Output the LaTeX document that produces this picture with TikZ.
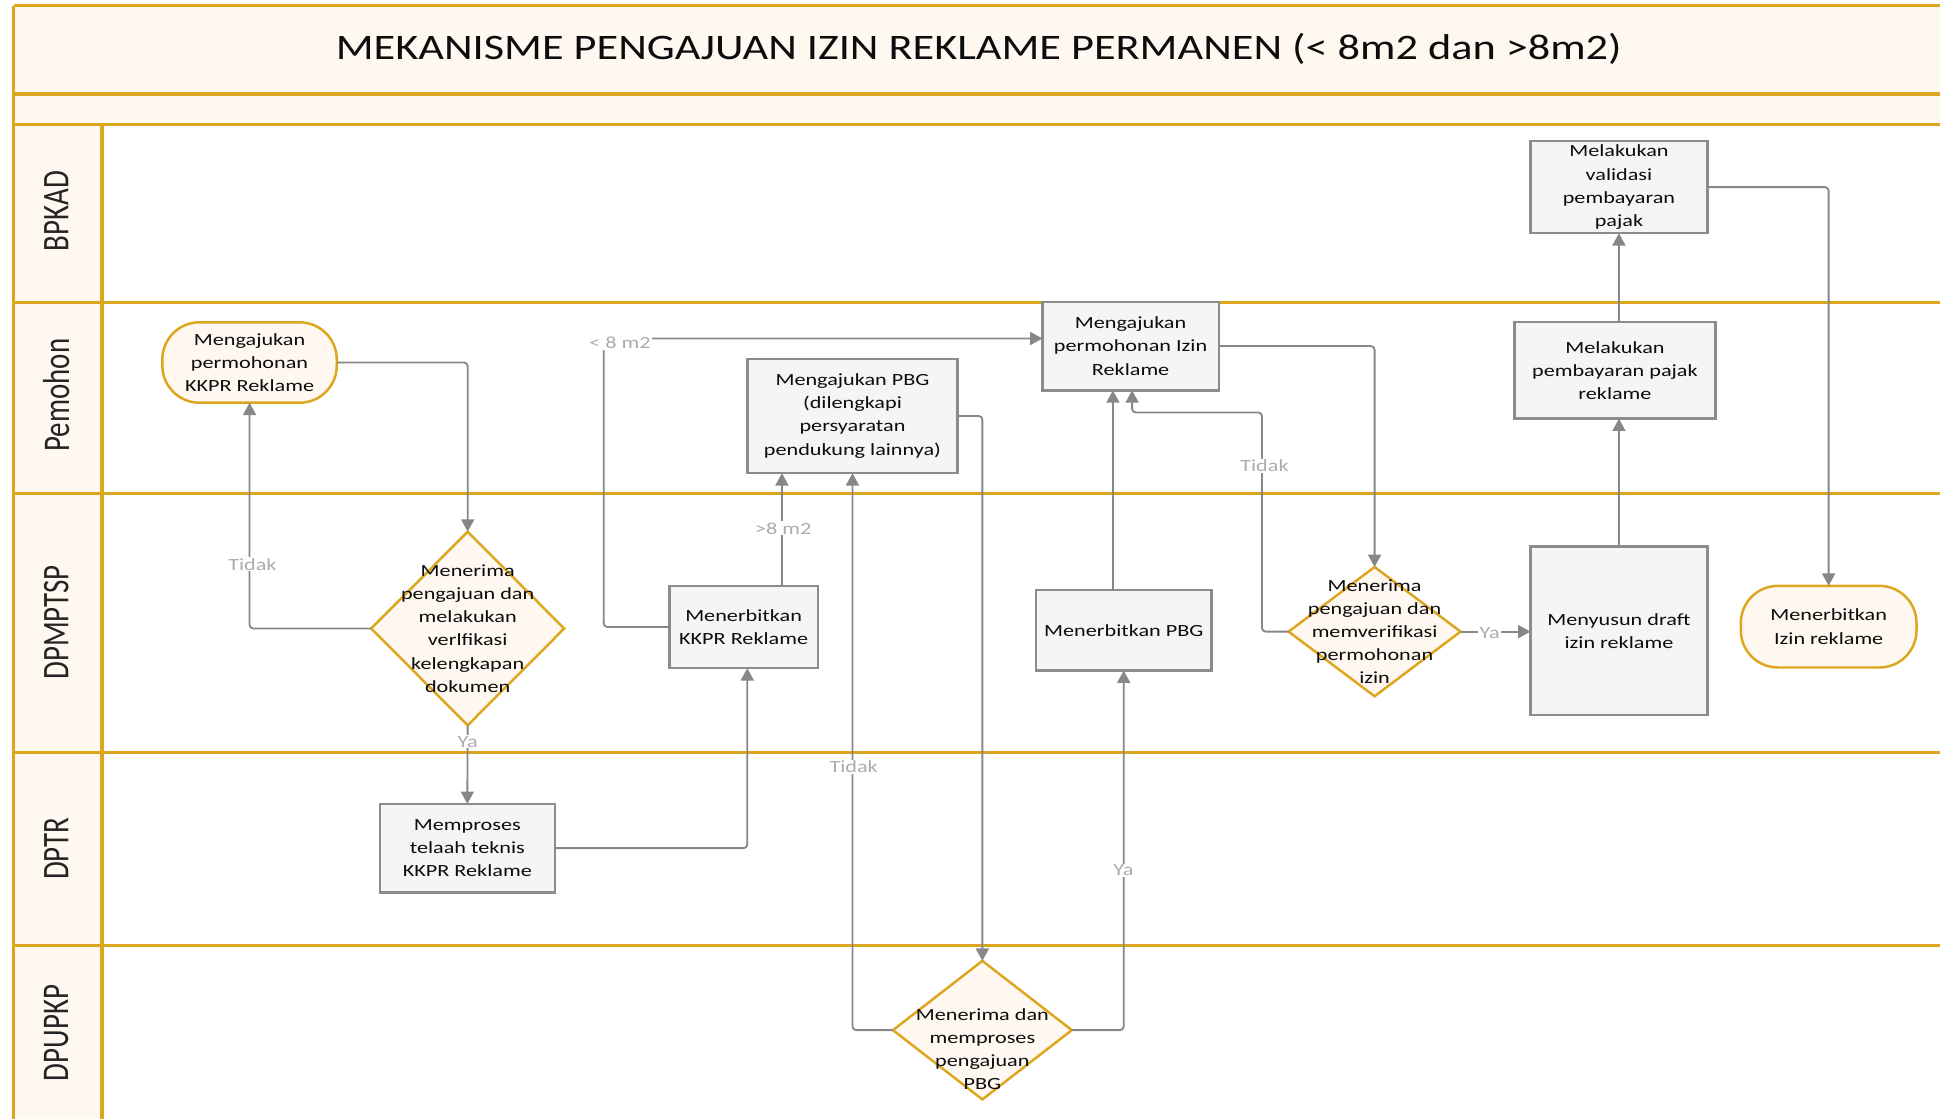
\documentclass[tikz,border=0pt]{standalone}
\usepackage{fontspec}
\setmainfont{Carlito}[FakeStretch=1.3]
\newfontfamily\titlefont{Carlito}[FakeStretch=1.235]
\newfontfamily\lanefont{Carlito}
\usetikzlibrary{arrows.meta,shapes.geometric,calc}
\definecolor{gold}{RGB}{220,166,30}
\definecolor{cream}{RGB}{254,248,240}
\definecolor{boxfill}{RGB}{245,245,245}
\definecolor{boxline}{RGB}{140,140,140}
\definecolor{conncol}{RGB}{135,135,135}
\definecolor{lblcol}{RGB}{172,172,172}
\definecolor{txtcol}{RGB}{12,12,12}
\begin{document}
\begin{tikzpicture}[x=1pt,y=-1pt,
  boxtext/.style={font=\fontsize{13.8}{18.7}\selectfont, text=txtcol, align=center},
  procbox/.style={boxtext, draw=boxline, line width=2pt, fill=boxfill, inner sep=0pt, outer sep=0pt},
  termbox/.style={boxtext, draw=gold, line width=2pt, fill=cream, inner sep=0pt, outer sep=0pt, rounded corners=30pt},
  diam/.style={diamond, draw=gold, line width=2pt, fill=cream, inner sep=0pt, outer sep=0pt},
  diamtext/.style={boxtext, inner sep=0pt},
  flow/.style={draw=conncol, line width=1.5pt, rounded corners=3pt, -{Triangle[length=10pt,width=10.5pt]}},
  elabel/.style={fill=white, text=lblcol, inner sep=1pt, font=\fontsize{13.8}{16}\selectfont},
  lanelbl/.style={rotate=90, text=txtcol!90, inner sep=0pt, font=\fontsize{23.4}{26}\lanefont},
  goldline/.style={draw=gold, line width=2.6pt}
]
\useasboundingbox (0,0) rectangle (1568,904.4);
\clip (0,0) rectangle (1568,904.4);
% frame
\fill[cream] (11,4.5) rectangle (1600,100.7);
\fill[cream] (11,100.7) rectangle (82.5,1000);
\draw[goldline] (11,4.5) -- (1600,4.5);
\draw[goldline] (11,76) -- (1600,76);
\draw[goldline] (11,100.7) -- (1600,100.7);
\draw[goldline] (11,244.5) -- (1600,244.5);
\draw[goldline] (11,399) -- (1600,399);
\draw[goldline] (11,608.5) -- (1600,608.5);
\draw[goldline] (11,764.4) -- (1600,764.4);
\draw[goldline] (11,4.5) -- (11,1000);
\draw[goldline] (82.5,100.7) -- (82.5,1000);
% title
\node[font=\fontsize{29}{32}\titlefont, text=txtcol, inner sep=0pt] (title) at (791,39.5) {MEKANISME PENGAJUAN IZIN REKLAME PERMANEN (< 8m2 dan >8m2)};
% lane labels
\node[lanelbl] (lane1) at (45.5,170.7) {\scalebox{1}[1.3]{BPKAD}};
\node[lanelbl] (lane2) at (45.5,319.4) {\scalebox{1}[1.3]{Pemohon}};
\node[lanelbl] (lane3) at (45.5,503) {\scalebox{1}[1.3]{DPMPTSP}};
\node[lanelbl] (lane4) at (45.5,686) {\scalebox{1}[1.3]{DPTR}};
\node[lanelbl] (lane5) at (45.5,835) {\scalebox{1}[1.3]{DPUPKP}};
% nodes
\node[termbox, minimum width=141pt, minimum height=65pt] (kkprreq) at (201.7,293) {Mengajukan\\permohonan\\KKPR Reklame};
\node[diam, minimum width=156pt, minimum height=156.5pt] (d1) at (378,508) {};
\node[diamtext] (d1t) at (378,508) {Menerima\\pengajuan dan\\melakukan\\verlfikasi\\kelengkapan\\dokumen};
\node[procbox, minimum width=141.5pt, minimum height=71.5pt] (proses) at (377.7,685.5) {Memproses\\telaah teknis\\KKPR Reklame};
\node[procbox, minimum width=120pt, minimum height=66.5pt] (kkpr) at (601,506.8) {Menerbitkan\\KKPR Reklame};
\node[procbox, minimum width=170pt, minimum height=92.5pt] (pbg) at (689,336.2) {Mengajukan PBG\\(dilengkapi\\persyaratan\\pendukung lainnya)};
\node[diam, minimum width=144.6pt, minimum height=112pt] (d3) at (794,832.6) {};
\node[diamtext] (d3t) at (794,848) {Menerima dan\\memproses\\pengajuan\\PBG};
\node[procbox, minimum width=141.5pt, minimum height=65.2pt] (pbg2) at (908.25,509.4) {Menerbitkan PBG};
\node[procbox, minimum width=142.5pt, minimum height=71.6pt] (izin) at (913.8,279.7) {Mengajukan\\permohonan Izin\\Reklame};
\node[diam, minimum width=139pt, minimum height=104.5pt] (d2) at (1111,510.5) {};
\node[diamtext] (d2t) at (1111,510.5) {Menerima\\pengajuan dan\\memverifikasi\\permohonan\\izin};
\node[procbox, minimum width=143pt, minimum height=136.4pt] (draft) at (1308.5,509.8) {Menyusun draft\\izin reklame};
\node[procbox, minimum width=162.5pt, minimum height=78pt] (bayar) at (1305.25,299.35) {Melakukan\\pembayaran pajak\\reklame};
\node[procbox, minimum width=143pt, minimum height=74.5pt] (valid) at (1308.5,151.25) {Melakukan\\validasi\\pembayaran\\pajak};
\node[termbox, minimum width=142pt, minimum height=66pt] (izinout) at (1478,506.5) {Menerbitkan\\Izin reklame};
% helper coordinates
\coordinate (c8) at (488,273.6);
\coordinate (ct) at (1020,333.4);
% connectors
\draw[flow] (kkprreq.east) -| (d1.north);
\draw[flow] (d1.west) -| (kkprreq.south);
\draw[flow] (d1.south) -- (proses.north);
\draw[flow] (proses.east) -| ([xshift=3pt]kkpr.south);
\draw[flow] ([xshift=31pt]kkpr.north) -- ([xshift=31pt]kkpr.north |- pbg.south);
\draw[flow] (kkpr.west) -| (c8) -- (izin.west |- c8);
\draw[flow] (pbg.east) -| (d3.north);
\draw[flow] (d3.west) -| (pbg.south);
\draw[flow] (d3.east) -| (pbg2.south);
\draw[flow] ([xshift=-8.75pt]pbg2.north) -- ([xshift=-8.75pt]pbg2.north |- izin.south);
\draw[flow] (izin.east) -| (d2.north);
\draw[flow] (d2.west) -| (ct) -| ([xshift=1.2pt]izin.south);
\draw[flow] (d2.east) -- (draft.west |- d2.east);
\draw[flow] (draft.north) -- (draft.north |- bayar.south);
\draw[flow] (valid.south |- bayar.north) -- (valid.south);
\draw[flow] (valid.east) -| (izinout.north);
% edge labels
\node[elabel] (l1) at (204,456) {Tidak};
\node[elabel] (l2) at (378,599.4) {Ya};
\node[elabel] (l3) at (633,427) {>8 m2};
\node[elabel] (l4) at (501,277) {< 8 m2};
\node[elabel] (l5) at (690,620) {Tidak};
\node[elabel] (l6) at (908,703.4) {Ya};
\node[elabel] (l7) at (1022,376.7) {Tidak};
\node[elabel] (l8) at (1204,512) {Ya};
\end{tikzpicture}
\end{document}
